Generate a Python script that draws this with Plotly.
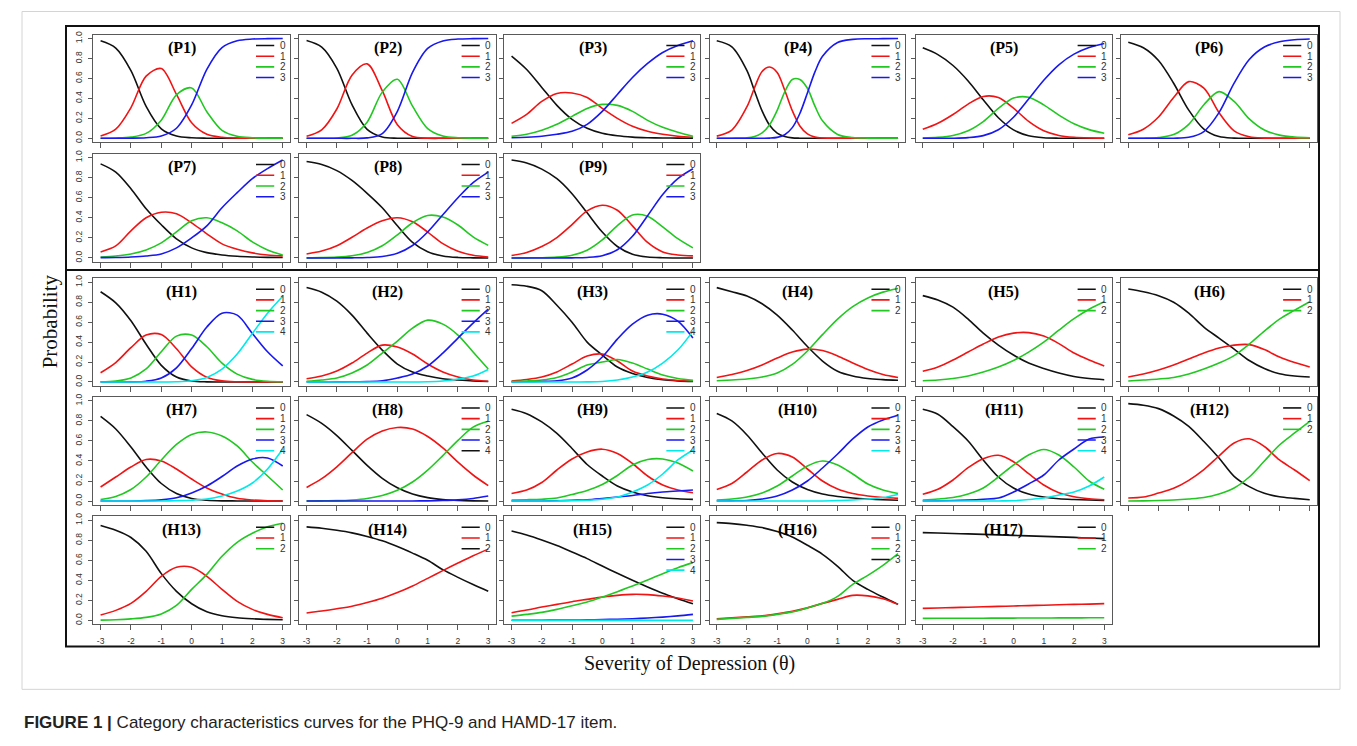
import plotly.graph_objects as go

# ---------------- data ----------------
X = [-3, -2.5, -2, -1.5, -1, -0.5, 0, 0.5, 1, 1.5, 2, 2.5, 3]
# P4 is steeper, so it is read at a finer step in its middle part
X_P4 = [-3, -2.5, -2, -1.75, -1.5, -1.25, -1, -0.75, -0.5, -0.25, 0, 0.25, 0.5, 1, 1.5, 2, 2.5, 3]

P1 = [[0.977,0.905,0.679,0.321,0.095,0.023,0.005,0.001,0,0,0,0,0],
      [0.022,0.092,0.308,0.624,0.699,0.440,0.156,0.040,0.010,0.002,0,0,0],
      [0.001,0.003,0.012,0.049,0.182,0.436,0.505,0.267,0.080,0.020,0.005,0.001,0],
      [0,0,0.001,0.006,0.024,0.101,0.334,0.692,0.910,0.978,0.995,0.999,1.0]]
P2 = [[0.980,0.914,0.702,0.337,0.089,0.013,0.001,0,0,0,0,0,0],
      [0.020,0.085,0.294,0.633,0.746,0.477,0.136,0.017,0.001,0,0,0,0],
      [0,0.001,0.003,0.031,0.162,0.463,0.592,0.322,0.098,0.024,0.005,0.001,0],
      [0,0,0,0,0.004,0.047,0.271,0.661,0.901,0.976,0.995,0.999,1.0]]
P3 = [[0.824,0.69,0.51,0.33,0.19,0.10,0.05,0.025,0.012,0.006,0.003,0.002,0.001],
      [0.15,0.24,0.37,0.45,0.455,0.41,0.30,0.20,0.12,0.07,0.04,0.02,0.01],
      [0.02,0.04,0.08,0.14,0.22,0.30,0.34,0.33,0.27,0.18,0.11,0.06,0.02],
      [0.005,0.01,0.02,0.04,0.07,0.14,0.27,0.44,0.61,0.75,0.86,0.93,0.977]]
P4 = [[0.978,0.917,0.678,0.475,0.275,0.131,0.052,0.017,0.004,0.001,0,0,0,0,0,0,0,0],
      [0.022,0.083,0.317,0.507,0.670,0.715,0.660,0.482,0.277,0.124,0.044,0.012,0.003,0,0,0,0,0],
      [0,0.001,0.005,0.018,0.054,0.136,0.280,0.466,0.590,0.590,0.502,0.322,0.175,0.039,0.008,0.002,0.001,0],
      [0,0,0,0,0.001,0.002,0.009,0.036,0.107,0.249,0.454,0.666,0.822,0.961,0.992,0.998,0.999,1.0]]
P5 = [[0.907,0.839,0.730,0.575,0.386,0.206,0.084,0.026,0.006,0.001,0,0,0],
      [0.090,0.151,0.239,0.343,0.419,0.409,0.302,0.170,0.076,0.029,0.010,0.003,0.001],
      [0.003,0.010,0.029,0.076,0.168,0.299,0.403,0.412,0.335,0.233,0.146,0.087,0.050],
      [0,0,0.001,0.007,0.027,0.086,0.211,0.393,0.582,0.737,0.844,0.910,0.950]]
P6 = [[0.964,0.908,0.780,0.552,0.282,0.092,0.017,0.002,0,0,0,0,0],
      [0.036,0.091,0.213,0.409,0.568,0.503,0.257,0.075,0.015,0.002,0,0,0],
      [0,0.001,0.007,0.037,0.140,0.337,0.468,0.370,0.195,0.083,0.032,0.012,0.005],
      [0,0,0,0.001,0.010,0.068,0.257,0.553,0.790,0.915,0.968,0.988,0.995]]
P7 = [[0.937,0.855,0.69,0.49,0.33,0.19,0.10,0.053,0.03,0.017,0.01,0.006,0.004],
      [0.06,0.12,0.27,0.40,0.455,0.44,0.35,0.24,0.14,0.086,0.05,0.03,0.02],
      [0.01,0.02,0.04,0.08,0.15,0.26,0.37,0.40,0.35,0.27,0.16,0.08,0.03],
      [0.003,0.005,0.01,0.02,0.04,0.10,0.20,0.32,0.50,0.65,0.79,0.89,0.975]]
P8 = [[0.960,0.930,0.870,0.772,0.644,0.50,0.32,0.154,0.062,0.020,0.005,0.001,0],
      [0.039,0.068,0.122,0.206,0.298,0.37,0.40,0.36,0.258,0.143,0.067,0.027,0.010],
      [0.001,0.003,0.008,0.022,0.054,0.121,0.230,0.351,0.423,0.407,0.328,0.21,0.125],
      [0,0,0,0.001,0.004,0.014,0.047,0.124,0.258,0.430,0.600,0.75,0.855]]
P9 = [[0.975,0.945,0.885,0.789,0.640,0.449,0.258,0.114,0.037,0.009,0.002,0,0],
      [0.025,0.055,0.113,0.203,0.332,0.469,0.525,0.475,0.319,0.154,0.06,0.03,0.02],
      [0,0.001,0.002,0.008,0.027,0.077,0.179,0.322,0.428,0.416,0.309,0.192,0.1],
      [0,0,0,0,0.001,0.005,0.022,0.081,0.216,0.421,0.632,0.790,0.888]]

H1 = [[0.905,0.794,0.614,0.378,0.167,0.050,0.010,0.001,0,0,0,0,0],
      [0.093,0.195,0.344,0.47,0.475,0.334,0.152,0.048,0.011,0.002,0,0,0],
      [0.002,0.010,0.041,0.131,0.303,0.46,0.47,0.353,0.189,0.079,0.026,0.007,0.002],
      [0,0,0.001,0.008,0.040,0.142,0.335,0.551,0.69,0.67,0.487,0.303,0.161],
      [0,0,0,0,0,0.002,0.012,0.046,0.129,0.280,0.487,0.690,0.86]]
H2 = [[0.947,0.90,0.81,0.67,0.49,0.32,0.18,0.10,0.06,0.033,0.02,0.01,0.005],
      [0.033,0.06,0.11,0.19,0.29,0.37,0.35,0.28,0.18,0.10,0.05,0.02,0.008],
      [0.007,0.02,0.04,0.09,0.17,0.29,0.41,0.54,0.62,0.58,0.47,0.30,0.13],
      [0,0,0.001,0.002,0.004,0.012,0.04,0.08,0.16,0.29,0.44,0.59,0.73],
      [0,0,0,0,0,0,0,0,0.002,0.01,0.03,0.06,0.126]]
H3 = [[0.975,0.96,0.915,0.77,0.60,0.40,0.27,0.15,0.085,0.045,0.022,0.011,0.005],
      [0.01,0.025,0.05,0.10,0.18,0.26,0.28,0.21,0.11,0.06,0.03,0.015,0.007],
      [0.005,0.01,0.02,0.045,0.10,0.17,0.20,0.225,0.19,0.13,0.07,0.035,0.017],
      [0,0.002,0.005,0.012,0.04,0.12,0.25,0.43,0.58,0.67,0.68,0.61,0.44],
      [0,0,0,0,0,0.001,0.005,0.02,0.05,0.10,0.19,0.32,0.51]]
H4 = [[0.946,0.905,0.862,0.784,0.670,0.521,0.356,0.210,0.108,0.06,0.035,0.024,0.017],
      [0.045,0.075,0.115,0.17,0.24,0.30,0.33,0.315,0.261,0.19,0.125,0.075,0.045],
      [0.012,0.02,0.03,0.05,0.09,0.176,0.311,0.475,0.631,0.756,0.843,0.901,0.938]]
H5 = [[0.866,0.822,0.75,0.63,0.49,0.37,0.27,0.19,0.135,0.09,0.055,0.035,0.023],
      [0.107,0.15,0.22,0.30,0.38,0.45,0.49,0.495,0.46,0.385,0.29,0.22,0.16],
      [0.013,0.02,0.035,0.06,0.10,0.15,0.215,0.30,0.40,0.52,0.635,0.73,0.805]]
H6 = [[0.933,0.905,0.865,0.80,0.69,0.55,0.44,0.33,0.215,0.135,0.083,0.06,0.05],
      [0.05,0.08,0.12,0.17,0.23,0.29,0.34,0.37,0.375,0.325,0.25,0.195,0.15],
      [0.01,0.02,0.03,0.045,0.08,0.13,0.19,0.265,0.38,0.51,0.63,0.72,0.805]]
H7 = [[0.845,0.72,0.54,0.34,0.175,0.075,0.026,0.008,0.002,0.001,0,0,0],
      [0.14,0.24,0.34,0.415,0.40,0.32,0.22,0.13,0.07,0.027,0.01,0.003,0.001],
      [0.016,0.046,0.115,0.24,0.41,0.565,0.665,0.69,0.65,0.55,0.39,0.25,0.11],
      [0,0,0.001,0.004,0.012,0.032,0.08,0.15,0.245,0.35,0.42,0.43,0.35],
      [0,0,0,0,0,0.003,0.008,0.02,0.05,0.10,0.18,0.32,0.52]]
H8 = [[0.863,0.776,0.654,0.506,0.356,0.227,0.132,0.070,0.034,0.015,0.006,0.002,0.001],
      [0.136,0.223,0.342,0.483,0.618,0.70,0.735,0.72,0.645,0.531,0.388,0.260,0.154],
      [0.001,0.002,0.004,0.011,0.026,0.056,0.108,0.190,0.309,0.454,0.606,0.738,0.796],
      [0,0,0,0,0,0,0,0.001,0.002,0.005,0.012,0.026,0.050]]
H9 = [[0.917,0.873,0.79,0.675,0.525,0.365,0.25,0.15,0.09,0.053,0.033,0.023,0.017],
      [0.076,0.11,0.185,0.31,0.42,0.49,0.518,0.475,0.375,0.25,0.16,0.11,0.083],
      [0.01,0.013,0.018,0.03,0.065,0.105,0.165,0.255,0.36,0.415,0.42,0.38,0.30],
      [0,0,0.001,0.003,0.008,0.012,0.025,0.04,0.055,0.075,0.09,0.10,0.11],
      [0,0,0,0.001,0.003,0.008,0.018,0.04,0.09,0.16,0.27,0.41,0.51]]
H10 = [[0.874,0.80,0.66,0.48,0.31,0.19,0.115,0.07,0.045,0.03,0.02,0.013,0.008],
       [0.116,0.175,0.29,0.41,0.475,0.44,0.32,0.20,0.12,0.075,0.05,0.035,0.027],
       [0.01,0.02,0.04,0.08,0.15,0.25,0.35,0.40,0.36,0.27,0.17,0.11,0.076],
       [0,0.002,0.005,0.02,0.05,0.11,0.20,0.33,0.47,0.62,0.74,0.81,0.857],
       [0,0,0,0,0,0,0,0.001,0.005,0.01,0.02,0.035,0.066]]
H11 = [[0.917,0.867,0.743,0.60,0.41,0.24,0.13,0.07,0.04,0.023,0.015,0.01,0.007],
       [0.067,0.117,0.21,0.333,0.423,0.457,0.393,0.273,0.16,0.083,0.043,0.023,0.013],
       [0.01,0.02,0.035,0.07,0.13,0.24,0.36,0.46,0.515,0.46,0.34,0.20,0.117],
       [0,0.002,0.005,0.01,0.018,0.03,0.09,0.17,0.26,0.41,0.52,0.62,0.64],
       [0,0,0,0,0,0.001,0.003,0.015,0.03,0.06,0.09,0.15,0.24]]
H12 = [[0.973,0.957,0.923,0.85,0.746,0.595,0.43,0.247,0.144,0.077,0.043,0.027,0.013],
       [0.03,0.04,0.08,0.127,0.207,0.314,0.45,0.58,0.622,0.545,0.41,0.31,0.204],
       [0,0.002,0.005,0.01,0.02,0.035,0.07,0.13,0.24,0.40,0.56,0.68,0.796]]
H13 = [[0.947,0.90,0.828,0.69,0.467,0.29,0.166,0.086,0.046,0.026,0.016,0.01,0.006],
       [0.053,0.10,0.17,0.29,0.44,0.53,0.53,0.44,0.31,0.19,0.11,0.06,0.026],
       [0.003,0.007,0.015,0.03,0.065,0.15,0.31,0.46,0.64,0.78,0.87,0.935,0.97]]
H14 = [[0.934,0.92,0.90,0.874,0.838,0.795,0.738,0.672,0.60,0.507,0.43,0.358,0.29],
       [0.073,0.093,0.116,0.142,0.179,0.222,0.278,0.344,0.42,0.497,0.573,0.646,0.712]]
H15 = [[0.893,0.853,0.803,0.747,0.683,0.617,0.543,0.47,0.40,0.333,0.27,0.217,0.167],
       [0.077,0.103,0.133,0.16,0.187,0.21,0.233,0.25,0.26,0.257,0.243,0.223,0.193],
       [0.043,0.06,0.08,0.11,0.147,0.183,0.233,0.287,0.343,0.403,0.467,0.527,0.577],
       [0.001,0.001,0.002,0.003,0.004,0.005,0.008,0.012,0.017,0.024,0.033,0.045,0.06],
       [0,0,0,0,0,0,0,0,0,0,0,0,0]]
H16 = [[0.977,0.967,0.95,0.927,0.887,0.833,0.75,0.66,0.54,0.40,0.31,0.233,0.16],
       [0.017,0.025,0.035,0.045,0.065,0.09,0.125,0.17,0.21,0.25,0.245,0.217,0.16],
       [0.01,0.02,0.03,0.04,0.06,0.085,0.125,0.17,0.24,0.36,0.45,0.55,0.667]]
H17 = [[0.877,0.873,0.868,0.864,0.859,0.854,0.849,0.844,0.839,0.834,0.829,0.823,0.817],
       [0.12,0.124,0.128,0.132,0.136,0.14,0.144,0.148,0.152,0.156,0.16,0.163,0.167],
       [0.02,0.021,0.021,0.022,0.022,0.023,0.023,0.024,0.024,0.025,0.025,0.026,0.027]]

CATEGORY_LABELS = ["0", "1", "2", "3", "4"]
X_TICKS = [-3, -2, -1, 0, 1, 2, 3]
X_TICKTEXT = ["-3", "-2", "-1", "0", "1", "2", "3"]
Y_TICKS = [0, 0.2, 0.4, 0.6, 0.8, 1.0]
Y_TICKTEXT = ["0.0", "0.2", "0.4", "0.6", "0.8", "1.0"]

# ---------------- styles ----------------
BLACK, RED, GREEN, BLUE, CYAN = "#111111", "#f01414", "#22c822", "#1818f0", "#00eaea"
C3 = [BLACK, RED, GREEN]
C4 = [BLACK, RED, GREEN, BLUE]
C5 = [BLACK, RED, GREEN, BLUE, CYAN]

# (title, theta grid, curves, legend colours) ; curve i uses legend colour i
PANELS = [
    ("P1", X, P1, C4), ("P2", X, P2, C4), ("P3", X, P3, C4), ("P4", X_P4, P4, C4),
    ("P5", X, P5, C4), ("P6", X, P6, C4),
    ("P7", X, P7, C4), ("P8", X, P8, C4), ("P9", X, P9, C4),
    ("H1", X, H1, C5), ("H2", X, H2, C5), ("H3", X, H3, C5), ("H4", X, H4, C3),
    ("H5", X, H5, C3), ("H6", X, H6, C3),
    ("H7", X, H7, C5), ("H8", X, H8, [BLACK, RED, GREEN, BLUE, BLACK]), ("H9", X, H9, C5),
    ("H10", X, H10, C5), ("H11", X, H11, C5), ("H12", X, H12, C3),
    ("H13", X, H13, C3), ("H14", X, H14, [BLACK, RED, BLACK]), ("H15", X, H15, C5),
    ("H16", X, H16, [BLACK, RED, GREEN, BLACK]), ("H17", X, H17, C3),
]
GRID = ([(0, c) for c in range(6)] + [(1, c) for c in range(3)] +
        [(2, c) for c in range(6)] + [(3, c) for c in range(6)] + [(4, c) for c in range(5)])

W, H = 1357, 746
OFF = 8  # the page puts the figure 8 px in from the top-left corner
COL_PX = [(93.3, 290.0), (299.3, 495.5), (504.3, 700.2), (709.5, 905.3), (915.5, 1111.5), (1121.0, 1317.0)]
ROW_PX = [(31.7, 140.0), (151.3, 260.3), (276.7, 385.0), (396.0, 504.7), (516.0, 624.7)]
BOTTOM_ROW = 4


def px(x):
    return (x - OFF) / W


def py(y):
    return 1 - (y - OFF) / H


fig = go.Figure()
shapes, annotations = [], []
layout = {}

for i, ((name, xs, curves, colors), (r, c)) in enumerate(zip(PANELS, GRID), start=1):
    sfx = "" if i == 1 else str(i)
    xl, xr = COL_PX[c]
    yt, yb = ROW_PX[r]
    layout["xaxis" + sfx] = dict(
        domain=[px(xl), px(xr)], range=[-3.24, 3.24], anchor="y" + sfx,
        showline=True, mirror=True, linecolor="#595959", linewidth=1,
        ticks="outside", ticklen=5, tickwidth=1, tickcolor="#595959",
        tickvals=X_TICKS, ticktext=X_TICKTEXT, showticklabels=(r == BOTTOM_ROW),
        tickfont=dict(family="Liberation Sans", size=8.5, color="#333333"),
        ticklabelstandoff=3, showgrid=False, zeroline=False, fixedrange=True)
    layout["yaxis" + sfx] = dict(
        domain=[py(yb), py(yt)], range=[-0.04, 1.04], anchor="x" + sfx,
        showline=True, mirror=True, linecolor="#595959", linewidth=1,
        ticks="outside", ticklen=4, tickwidth=1, tickcolor="#595959",
        tickvals=Y_TICKS, ticktext=Y_TICKTEXT, showticklabels=(c == 0), tickangle=-90,
        tickfont=dict(family="Liberation Sans", size=8.5, color="#333333"),
        ticklabelstandoff=3, showgrid=False, zeroline=False, fixedrange=True)

    for vals, col in zip(curves, colors):
        fig.add_trace(go.Scatter(
            x=xs, y=vals, mode="lines", xaxis="x" + sfx, yaxis="y" + sfx,
            line=dict(color=col, width=1.6, shape="spline", smoothing=0.9),
            showlegend=False, hoverinfo="skip"))
    for k, col in enumerate(colors):
        ly = 0.93 - 0.107 * k
        shapes.append(dict(type="line", xref="x" + sfx, yref="y" + sfx,
                           x0=2.12, x1=2.72, y0=ly, y1=ly,
                           line=dict(color=col, width=1.6)))
        annotations.append(dict(xref="x" + sfx, yref="y" + sfx, x=3.0, y=ly,
                                text=CATEGORY_LABELS[k], showarrow=False,
                                xanchor="center", yanchor="middle",
                                font=dict(family="Liberation Sans", size=10, color="#333333")))
    annotations.append(dict(xref="x" + sfx, yref="y" + sfx, x=-0.32, y=0.905,
                            text="<b>(" + name + ")</b>", showarrow=False,
                            xanchor="center", yanchor="middle",
                            font=dict(family="Liberation Serif", size=16, color="#000000")))

# light figure border, outer frame, separator between PHQ-9 and HAMD-17 blocks
shapes.append(dict(type="rect", xref="paper", yref="paper",
                   x0=px(22), x1=px(1340), y0=py(690), y1=py(8.5),
                   line=dict(color="#d4d4d4", width=1)))
shapes.append(dict(type="rect", xref="paper", yref="paper",
                   x0=px(66), x1=px(1319), y0=py(647), y1=py(23),
                   line=dict(color="#111111", width=2)))
shapes.append(dict(type="line", xref="paper", yref="paper",
                   x0=px(66), x1=px(1319), y0=py(268.5), y1=py(268.5),
                   line=dict(color="#111111", width=2)))

annotations.append(dict(xref="paper", yref="paper", x=px(50), y=py(320),
                        text="Probability", textangle=-90, showarrow=False,
                        xanchor="center", yanchor="middle",
                        font=dict(family="Liberation Serif", size=21, color="#111111")))
annotations.append(dict(xref="paper", yref="paper", x=px(689), y=py(664),
                        text="Severity of Depression (θ)", showarrow=False,
                        xanchor="center", yanchor="middle",
                        font=dict(family="Liberation Serif", size=20, color="#111111")))
annotations.append(dict(xref="paper", yref="paper", x=px(22), y=py(723),
                        text="<b>FIGURE 1 |</b> Category characteristics curves for the PHQ-9 and HAMD-17 item.",
                        showarrow=False, xanchor="left", yanchor="middle",
                        font=dict(family="Liberation Sans", size=17, color="#222222")))

fig.update_layout(width=W, height=H, margin=dict(l=0, r=0, t=0, b=0),
                  paper_bgcolor="white", plot_bgcolor="white",
                  shapes=shapes, annotations=annotations, showlegend=False, **layout)

fig.write_html("out.html", config={"displayModeBar": False})
